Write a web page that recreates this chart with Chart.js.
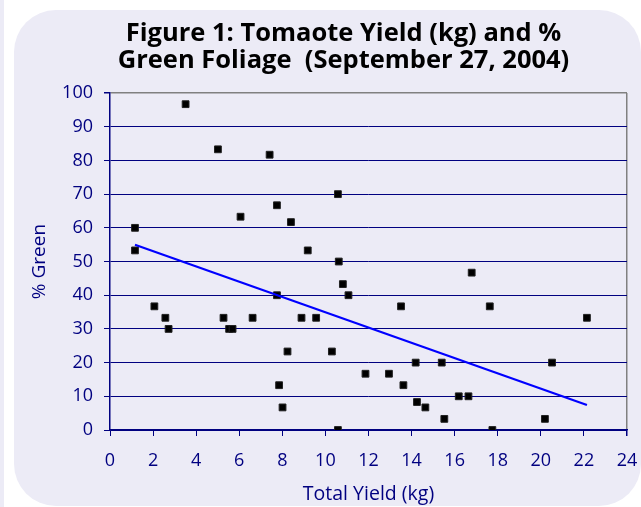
<!DOCTYPE html>
<html><head><meta charset="utf-8">
<script src="https://cdn.jsdelivr.net/npm/chart.js"></script>
<style>html,body{margin:0;padding:0;background:#fff;}canvas{display:block;}</style>
</head><body>
<canvas id="c" width="641" height="507"></canvas>
<script>
const titleLines = ['Figure 1: Tomaote Yield (kg) and %', 'Green Foliage  (September 27, 2004)'];
const xAxisTitle = 'Total Yield (kg)';
const yAxisTitle = '% Green';
const xTickValues = [0, 2, 4, 6, 8, 10, 12, 14, 16, 18, 20, 22, 24];
const yTickValues = [0, 10, 20, 30, 40, 50, 60, 70, 80, 90, 100];

// Total yield (kg) per plot
const yieldKg = [1.16, 1.16, 3.51, 5.01, 6.06, 7.41, 7.75, 8.40, 9.18, 10.58,
  10.62, 10.81, 11.07, 2.06, 2.57, 2.72, 5.27, 5.53, 5.69, 6.62,
  7.75, 8.89, 9.57, 8.24, 10.30, 7.85, 8.01, 10.58, 11.86, 12.95,
  13.51, 13.62, 14.19, 14.25, 14.64, 15.40, 15.52, 16.19, 16.64, 16.79,
  17.63, 17.75, 20.19, 20.52, 22.14];
// % green foliage per plot
const greenPct = [60.0, 53.3, 96.7, 83.3, 63.3, 81.7, 66.7, 61.7, 53.3, 70.0,
  50.0, 43.3, 40.0, 36.7, 33.3, 30.0, 33.3, 30.0, 30.0, 33.3,
  40.0, 33.3, 33.3, 23.3, 23.3, 13.3, 6.7, 0.0, 16.7, 16.7,
  36.7, 13.3, 20.0, 8.3, 6.7, 20.0, 3.3, 10.0, 10.0, 46.7,
  36.7, 0.0, 3.3, 20.0, 33.3];
// Linear trendline end points
const trendYield = [1.16, 22.14];
const trendGreen = [55.0, 7.4];

const NAVY = '#000080';
const PANEL = '#ECEBF6';

const panelPlugin = {
  id: 'panel',
  beforeDraw(chart) {
    const ctx = chart.ctx;
    ctx.save();
    ctx.fillStyle = '#ffffff';
    ctx.fillRect(0, 0, chart.width, chart.height);
    ctx.fillStyle = PANEL;
    ctx.fillRect(0, 0, 4, chart.height);
    const x = 14, y = 10, w = 627, h = 496, r = 42;
    ctx.beginPath();
    ctx.moveTo(x + r, y);
    ctx.lineTo(x + w - r, y);
    ctx.arcTo(x + w, y, x + w, y + r, r);
    ctx.lineTo(x + w, y + h - r);
    ctx.arcTo(x + w, y + h, x + w - r, y + h, r);
    ctx.lineTo(x + r, y + h);
    ctx.arcTo(x, y + h, x, y + h - r, r);
    ctx.lineTo(x, y + r);
    ctx.arcTo(x, y, x + r, y, r);
    ctx.closePath();
    ctx.fill();
    ctx.restore();
  }
};

const scatterPoints = yieldKg.map((v, i) => ({ x: v, y: greenPct[i] }));
const trendPoints = trendYield.map((v, i) => ({ x: v, y: trendGreen[i] }));

new Chart(document.getElementById('c'), {
  type: 'scatter',
  data: {
    datasets: [
      {
        type: 'line',
        data: trendPoints,
        borderColor: '#0000FF',
        borderWidth: 2.2,
        pointRadius: 0,
        fill: false,
        showLine: true
      },
      {
        data: scatterPoints,
        pointStyle: 'rect',
        pointRadius: 4.8,
        backgroundColor: '#000000',
        borderColor: '#222222',
        borderWidth: 1
      }
    ]
  },
  plugins: [panelPlugin],
  options: {
    responsive: false,
    animation: false,
    events: [],
    layout: { padding: { top: 10, left: 60, right: 14, bottom: 1 } },
    plugins: {
      legend: { display: false },
      tooltip: { enabled: false },
      title: {
        display: true,
        text: titleLines,
        color: '#000000',
        font: { family: 'Open Sans', size: 25.5, weight: 'bold', lineHeight: 1.06 },
        padding: { top: 10, bottom: 19 }
      }
    },
    scales: {
      x: {
        type: 'linear',
        min: 0, max: 24,
        afterBuildTicks: s => { s.ticks = xTickValues.map(v => ({ value: v })); },
        afterFit: s => { s.height = 76; s.paddingLeft = 0; s.paddingRight = 0; },
        border: { display: true, color: NAVY, width: 1.5 },
        grid: {
          color: c => (c.tick && c.tick.value === 24) ? '#808080' : 'rgba(0,0,0,0)',
          lineWidth: c => (c.tick && c.tick.value === 24) ? 1.5 : 1,
          tickColor: NAVY,
          tickLength: 6,
          drawTicks: true
        },
        ticks: {
          color: NAVY,
          padding: 14,
          font: { family: 'Open Sans', size: 18 },
          maxRotation: 0,
          autoSkip: false
        },
        title: {
          display: true,
          text: xAxisTitle,
          color: NAVY,
          font: { family: 'Open Sans', size: 19.5, lineHeight: 1.2 },
          padding: { top: 0, bottom: 0 }
        }
      },
      y: {
        type: 'linear',
        min: 0, max: 100,
        afterBuildTicks: s => { s.ticks = yTickValues.map(v => ({ value: v })); },
        afterFit: s => { s.width = 50; s.paddingTop = 0; s.paddingBottom = 0; },
        border: { display: true, color: NAVY, width: 1.5 },
        grid: {
          color: c => (c.tick && c.tick.value === 100) ? '#808080' : NAVY,
          lineWidth: c => (c.tick && c.tick.value === 100) ? 1.5 : 1,
          tickColor: NAVY,
          tickLength: 6
        },
        ticks: {
          color: NAVY,
          padding: 11,
          font: { family: 'Open Sans', size: 18 },
          autoSkip: false
        },
        title: {
          display: true,
          text: yAxisTitle,
          color: NAVY,
          font: { family: 'Open Sans', size: 19, lineHeight: 1.2 },
          padding: { top: -31.4, bottom: 0 }
        }
      }
    }
  }
});
</script>
</body></html>
